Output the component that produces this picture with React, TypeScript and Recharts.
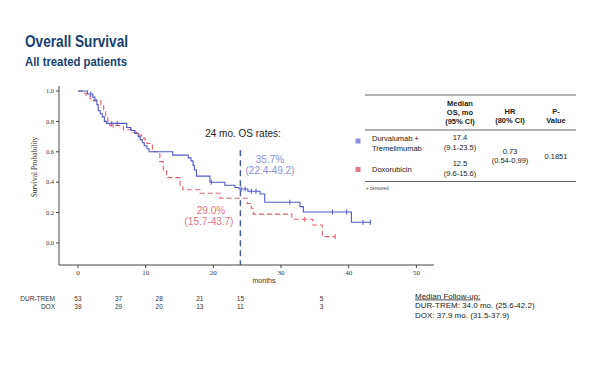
import { ComposedChart, Line, Scatter, XAxis, YAxis, ReferenceLine } from "recharts"

// Kaplan-Meier steps (months, survival probability)
const durTremT = [0, 1.4, 2.2, 2.5, 2.8, 3.0, 3.3, 3.6, 3.9, 4.2, 7.2, 7.8, 8.4, 8.9, 9.2, 9.5, 9.8, 10.2, 10.5, 14.0, 16.3, 16.7, 17.0, 17.2, 17.5, 19.5, 21.7, 23.2, 23.8, 25.1, 26.9, 27.6, 32.8, 33.3, 40.4, 43.2]
const durTremS = [1.0, 0.98, 0.96, 0.94, 0.91, 0.87, 0.85, 0.83, 0.8, 0.787, 0.76, 0.74, 0.72, 0.7, 0.68, 0.66, 0.64, 0.62, 0.6, 0.578, 0.56, 0.54, 0.51, 0.48, 0.44, 0.4, 0.38, 0.365, 0.355, 0.34, 0.322, 0.268, 0.239, 0.204, 0.136, 0.136]
const durTremCensored = [1.9, 5.0, 5.8, 19.7, 24.1, 24.7, 25.6, 26.3, 31.3, 37.6, 39.7, 42.1, 43.2]

const doxT = [0, 0.6, 1.2, 1.8, 2.3, 3.4, 3.8, 4.1, 4.4, 4.7, 6.7, 7.9, 8.7, 9.4, 9.9, 10.2, 11.0, 12.1, 12.6, 13.1, 15.1, 15.5, 18.0, 21.0, 25.0, 25.6, 25.9, 31.6, 34.7, 36.1, 38.0]
const doxS = [1.0, 0.985, 0.97, 0.95, 0.935, 0.91, 0.87, 0.83, 0.8, 0.772, 0.745, 0.728, 0.71, 0.69, 0.67, 0.655, 0.6, 0.535, 0.48, 0.43, 0.37, 0.35, 0.327, 0.294, 0.26, 0.228, 0.19, 0.156, 0.118, 0.042, 0.042]
const doxCensored = [5.2, 33.5, 38.0]

const xTicks = [0, 10, 20, 30, 40, 50]
const yTicks = [0, 0.2, 0.4, 0.6, 0.8, 1.0]

const riskMonths = [0, 6, 12, 18, 24, 36]
const riskDurTrem = [53, 37, 28, 21, 15, 5]
const riskDox = [39, 29, 20, 13, 11, 3]

const BLUE = "#5058c8"
const RED = "#e0606f"
const NAVY = "#173f72"

const X_DOMAIN: [number, number] = [-2.8, 52.6]
const PLOT_LEFT = 59
const PLOT_RIGHT = 434

const toSteps = (t: number[], s: number[]) => t.map((x, i) => ({ x, y: s[i] }))
const survAt = (t: number[], s: number[], at: number) => {
  let v = s[0]
  t.forEach((x, i) => {
    if (x <= at) v = s[i]
  })
  return v
}

const durTrem = toSteps(durTremT, durTremS)
const dox = toSteps(doxT, doxS)
const durTremMarks = durTremCensored.map((x) => ({ x, y: survAt(durTremT, durTremS, x) }))
const doxMarks = doxCensored.map((x) => ({ x, y: survAt(doxT, doxS, x) }))

// same linear mapping as the x axis, for the at-risk table below the plot
const xPos = (m: number) =>
  PLOT_LEFT + ((m - X_DOMAIN[0]) / (X_DOMAIN[1] - X_DOMAIN[0])) * (PLOT_RIGHT - PLOT_LEFT)

const censorShape = (color: string) => (props: any) => {
  const { cx, cy } = props
  return <line x1={cx} x2={cx} y1={cy - 2.5} y2={cy + 2.5} stroke={color} strokeWidth={1} />
}

const SANS = "'Liberation Sans', Arial, sans-serif"
const SERIF = "'Liberation Serif', 'Times New Roman', serif"

export default function App() {
  return (
    <div style={{ position: "absolute", left: 0, top: 0, width: 600, height: 365, background: "#fff" }}>
      <ComposedChart
        width={600}
        height={365}
        margin={{ top: 86, right: 166, bottom: 80, left: 19 }}
      >
        <XAxis
          type="number"
          dataKey="x"
          domain={X_DOMAIN}
          ticks={xTicks}
          allowDataOverflow
          height={20}
          tickSize={3}
          tick={{ fontSize: 7, fontFamily: SERIF, fill: "#333" }}
          axisLine={{ stroke: "#444" }}
          tickLine={{ stroke: "#444" }}
        />
        <YAxis
          type="number"
          dataKey="y"
          domain={[-0.145, 1.033]}
          ticks={yTicks}
          allowDataOverflow
          width={40}
          tickSize={3}
          tickFormatter={(v) => Number(v).toFixed(1)}
          tick={{ fontSize: 6.5, fontFamily: SERIF, fill: "#333" }}
          axisLine={{ stroke: "#444" }}
          tickLine={{ stroke: "#444" }}
        />
        <ReferenceLine
          segment={[{ x: 24, y: 0.61 }, { x: 24, y: -0.145 }]}
          stroke="#4a5f8f"
          strokeWidth={1.5}
          strokeDasharray="6 4"
        />
        <Line
          data={dox}
          dataKey="y"
          type="stepAfter"
          stroke={RED}
          strokeWidth={1.1}
          strokeDasharray="5 3"
          dot={false}
          isAnimationActive={false}
        />
        <Line
          data={durTrem}
          dataKey="y"
          type="stepAfter"
          stroke={BLUE}
          strokeWidth={1.1}
          dot={false}
          isAnimationActive={false}
        />
        <Scatter data={doxMarks} dataKey="y" shape={censorShape(RED)} isAnimationActive={false} />
        <Scatter data={durTremMarks} dataKey="y" shape={censorShape(BLUE)} isAnimationActive={false} />
      </ComposedChart>

      <svg width={600} height={365} style={{ position: "absolute", left: 0, top: 0, pointerEvents: "none" }}>
        <text
          x={25}
          y={47}
          fontFamily={SANS}
          fontWeight="bold"
          fontSize={17}
          fill={NAVY}
          textLength={103}
          lengthAdjust="spacingAndGlyphs"
        >
          Overall Survival
        </text>
        <text
          x={25}
          y={66}
          fontFamily={SANS}
          fontWeight="bold"
          fontSize={13}
          fill={NAVY}
          textLength={102}
          lengthAdjust="spacingAndGlyphs"
        >
          All treated patients
        </text>

        <text
          transform="translate(37,167) rotate(-90)"
          textAnchor="middle"
          fontFamily={SERIF}
          fontSize={7.5}
          fill="#333"
        >
          Survival Probability
        </text>
        <text x={264} y={282.5} textAnchor="middle" fontFamily={SANS} fontSize={7} fill="#333">
          months
        </text>

        {/* 24 month annotations */}
        <text x={243} y={136.5} textAnchor="middle" fontFamily={SANS} fontSize={10} fill="#222">
          24 mo. OS rates:
        </text>
        <text x={270} y={162.5} textAnchor="middle" fontFamily={SANS} fontSize={10} fill="#8a8ed6">
          35.7%
        </text>
        <text x={270} y={173.5} textAnchor="middle" fontFamily={SANS} fontSize={10} fill="#8a8ed6">
          (22.4-49.2)
        </text>
        <text x={211} y={213.5} textAnchor="middle" fontFamily={SANS} fontSize={10} fill="#e07383">
          29.0%
        </text>
        <text x={209} y={225} textAnchor="middle" fontFamily={SANS} fontSize={10} fill="#e07383">
          (15.7-43.7)
        </text>

        {/* results table */}
        <g fontFamily={SANS} fontSize={7.5} fill="#222">
          <line x1={365} x2={576} y1={95} y2={95} stroke="#666" strokeWidth={1.2} />
          <line x1={365} x2={576} y1={130} y2={130} stroke="#666" strokeWidth={1.2} />
          <line x1={365} x2={576} y1={181.5} y2={181.5} stroke="#666" strokeWidth={1.2} />
          <g fontWeight="bold" textAnchor="middle">
            <text x={460} y={106}>Median</text>
            <text x={460} y={114.5}>OS, mo</text>
            <text x={460} y={123.5}>(95% CI)</text>
            <text x={510} y={114}>HR</text>
            <text x={510} y={122.5}>(80% CI)</text>
            <text x={556} y={114}>P-</text>
            <text x={556} y={122.5}>Value</text>
          </g>
          <rect x={355.5} y={138.5} width={5} height={5} fill="#8a8ed6" />
          <rect x={355.5} y={167} width={5} height={5} fill="#e07a88" />
          <text x={372} y={141}>Durvalumab +</text>
          <text x={372} y={151}>Tremelimumab</text>
          <text x={372} y={172}>Doxorubicin</text>
          <g textAnchor="middle">
            <text x={460} y={140}>17.4</text>
            <text x={460} y={149.5}>(9.1-23.5)</text>
            <text x={460} y={166}>12.5</text>
            <text x={460} y={176}>(9.6-15.6)</text>
            <text x={510} y={153.7}>0.73</text>
            <text x={510} y={163.4}>(0.54-0.99)</text>
            <text x={556} y={158.7}>0.1851</text>
          </g>
          <text x={366} y={190} fontSize={4.5} fill="#444">
            + censored
          </text>
        </g>

        {/* numbers at risk */}
        <g fontFamily={SANS} fontSize={6.5} fill="#333">
          <text x={55} y={300.5} textAnchor="end">DUR-TREM</text>
          <text x={55} y={309} textAnchor="end">DOX</text>
          {riskMonths.map((m, i) => (
            <g key={m} textAnchor="middle">
              <text x={xPos(m)} y={300.5}>{riskDurTrem[i]}</text>
              <text x={xPos(m)} y={309}>{riskDox[i]}</text>
            </g>
          ))}
        </g>

        <g fontFamily={SANS} fontSize={8} fill="#222">
          <text x={415} y={298.5} style={{ textDecoration: "underline" }}>
            Median Follow-up:
          </text>
          <text x={415} y={308}>DUR-TREM: 34.0 mo. (25.6-42.2)</text>
          <text x={415} y={318}>DOX: 37.9 mo. (31.5-37.9)</text>
        </g>
      </svg>
    </div>
  )
}
